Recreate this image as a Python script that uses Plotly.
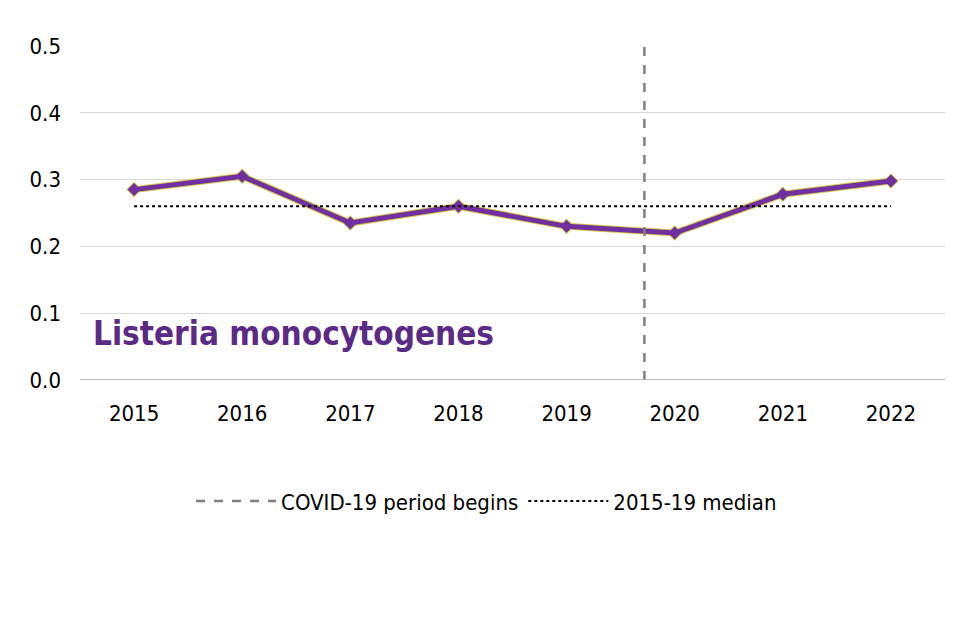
import plotly.graph_objects as go

years = [2015, 2016, 2017, 2018, 2019, 2020, 2021, 2022]
rates = [0.285, 0.305, 0.235, 0.26, 0.23, 0.22, 0.278, 0.298]
median_1519 = 0.26
covid_x = 2019.72
font = "DejaVu Sans Condensed, Liberation Sans Narrow, sans-serif"

fig = go.Figure()
# yellow underlay for the thin outline effect
fig.add_trace(go.Scatter(x=years, y=rates, mode="lines+markers", showlegend=False,
                         line=dict(color="#d8c84a", width=7),
                         marker=dict(symbol="diamond", size=12, color="#d8c84a"), hoverinfo="skip"))
fig.add_trace(go.Scatter(x=years, y=rates, mode="lines+markers", showlegend=False,
                         line=dict(color="#7030a0", width=5),
                         marker=dict(symbol="diamond", size=10, color="#7030a0")))
fig.add_trace(go.Scatter(x=[covid_x, covid_x], y=[0, 0.5], mode="lines",
                         name="COVID-19 period begins",
                         line=dict(color="#808080", width=2.5, dash="dash")))
fig.add_trace(go.Scatter(x=[years[0], years[-1]], y=[median_1519] * 2, mode="lines",
                         name="2015-19 median",
                         line=dict(color="black", width=2, dash="dot")))

fig.add_annotation(x=2014.6, y=0.07, xref="x", yref="y", text="<b>Listeria monocytogenes</b>",
                   showarrow=False, xanchor="left",
                   font=dict(family=font, size=33, color="#5b2a86"))

fig.update_layout(
    width=960, height=640, plot_bgcolor="white", paper_bgcolor="white",
    margin=dict(l=72, r=23, t=38, b=268),
    font=dict(family=font, size=22, color="black"),
    xaxis=dict(range=[2014.5, 2022.5], tickvals=years, showgrid=False, zeroline=False,
               showline=False, ticks="", ticklabelstandoff=18, automargin=False),
    yaxis=dict(range=[0, 0.5], dtick=0.1, tickformat=".1f", showgrid=True,
               gridcolor="#d9d9d9", zeroline=False, showline=False, ticklabelstandoff=18,
               automargin=False),
    legend=dict(orientation="h", x=0.47, y=-0.3, xanchor="center", yanchor="top",
                font=dict(size=22), itemwidth=80),
    shapes=[dict(type="line", xref="paper", yref="y", x0=0, x1=1, y0=0, y1=0,
                 line=dict(color="#a6a6a6", width=1.5))],
)

fig.write_html("out.html")
